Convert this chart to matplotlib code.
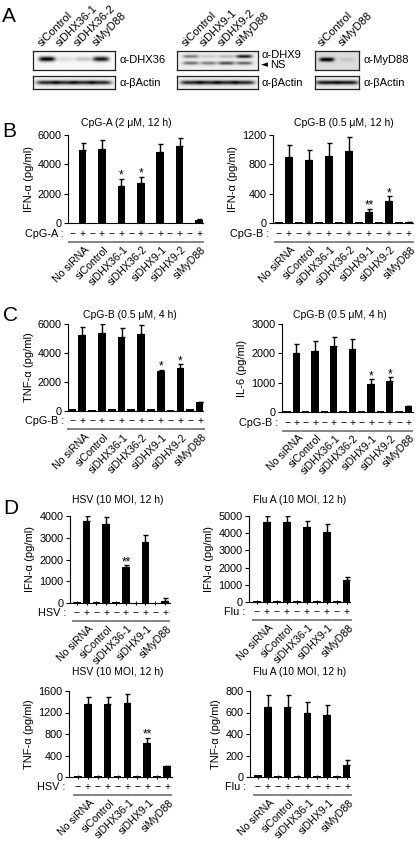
import numpy as np
import matplotlib
matplotlib.use("Agg")
import matplotlib.pyplot as plt
from matplotlib import transforms
from matplotlib.lines import Line2D

plt.rcParams['font.family'] = ['Liberation Sans', 'DejaVu Sans']
plt.rcParams['axes.linewidth'] = 0.8

# ---------------- data ----------------
cats7 = ["No siRNA", "siControl", "siDHX36-1", "siDHX36-2", "siDHX9-1", "siDHX9-2", "siMyD88"]
cats5 = ["No siRNA", "siControl", "siDHX36-1", "siDHX9-1", "siMyD88"]

# B left: CpG-A, IFN-a
b1_minus = [25, 25, 25, 25, 25, 25, 25]
b1_plus = [4950, 5070, 2500, 2750, 4840, 5230, 230]
b1_err = [520, 590, 520, 390, 570, 590, 50]
b1_stars = ["", "", "*", "*", "", "", ""]
# B right: CpG-B, IFN-a
b2_minus = [12, 12, 12, 12, 12, 12, 15]
b2_plus = [900, 865, 915, 980, 150, 297, 15]
b2_err = [160, 132, 173, 192, 46, 68, 0]
b2_stars = ["", "", "", "", "**", "*", ""]
# C left: CpG-B, TNF-a
c1_minus = [130, 80, 130, 140, 120, 80, 130]
c1_plus = [5220, 5400, 5120, 5300, 2760, 2960, 620]
c1_err = [600, 580, 620, 630, 100, 250, 30]
c1_stars = ["", "", "", "", "*", "*", ""]
# C right: CpG-B, IL-6
c2_minus = [20, 20, 20, 20, 20, 20, 20]
c2_plus = [2010, 2080, 2260, 2160, 965, 1045, 193]
c2_err = [300, 330, 280, 330, 145, 140, 0]
c2_stars = ["", "", "", "", "*", "*", ""]
# D: HSV IFN-a
d1_minus = [30, 50, 40, 20, 20]
d1_plus = [3790, 3610, 1660, 2820, 110]
d1_err = [210, 350, 70, 300, 110]
d1_stars = ["", "", "**", "", ""]
# D: Flu IFN-a
d2_minus = [30, 40, 30, 30, 30]
d2_plus = [4670, 4670, 4380, 4090, 1300]
d2_err = [320, 320, 320, 440, 150]
d2_stars = ["", "", "", "", ""]
# D: HSV TNF-a
d3_minus = [20, 15, 15, 15, 10]
d3_plus = [1355, 1355, 1385, 630, 197]
d3_err = [140, 140, 150, 95, 10]
d3_stars = ["", "", "", "**", ""]
# D: Flu TNF-a
d4_minus = [20, 12, 12, 12, 8]
d4_plus = [648, 648, 595, 577, 112]
d4_err = [112, 112, 100, 96, 45]
d4_stars = ["", "", "", "", ""]

# Blots (band intensities, 0..1)
dhx36_lanes = ["siControl", "siDHX36-1", "siDHX36-2", "siMyD88"]
dhx36_band = [1.0, 0.12, 0.2, 0.9]
dhx9_lanes = ["siControl", "siDHX9-1", "siDHX9-2", "siMyD88"]
dhx9_band = [0.45, 0.15, 0.22, 0.85]
dhx9_ns = [0.5, 0.45, 0.65, 0.55]
myd88_lanes = ["siControl", "siMyD88"]
myd88_band = [0.95, 0.1]
actin4 = [0.8, 0.8, 0.8, 0.8]
actin2 = [0.85, 0.85]

# ---------------- figure ----------------
W, H = 416, 842
fig = plt.figure(figsize=(W / 100, H / 100), dpi=100)
FS = 7.5     # titles / signs
TFS = 7.8    # tick labels
LFS = 8.0    # y labels
CFS = 7.6    # category labels


def add_ax(l, t, r, b):
    return fig.add_axes([l / W, 1 - b / H, (r - l) / W, (b - t) / H])


def px_text(x, y, s, **kw):
    fig.text(x / W, 1 - y / H, s, **kw)


def off(trans, dx=0, dy=0):
    return transforms.offset_copy(trans, fig=fig, x=dx, y=dy, units='dots')


def bar_panel(rect, xlim, ymax, yticks, ylabel, title, title_xy, stim, cats,
              minus, plus, err, stars, row_dy=10, xticks=False):
    ax = add_ax(*rect)
    n = len(cats)
    xm = np.arange(n) * 2
    xp = xm + 1
    ax.bar(xm, minus, width=0.78, color='black')
    ax.bar(xp, plus, width=0.78, color='black')
    ax.errorbar(xp, plus, yerr=[np.zeros(n), err], fmt='none', ecolor='black',
                elinewidth=1.0, capsize=1.8, capthick=1.0)
    ax.set_xlim(*xlim)
    ax.set_ylim(0, ymax)
    ax.set_yticks(yticks)
    ax.set_yticklabels([str(v) for v in yticks], fontsize=TFS)
    ax.tick_params(axis='y', direction='out', length=3, width=0.8, pad=1.5)
    if xticks:
        ax.set_xticks(np.concatenate([xm, xp]))
        ax.tick_params(axis='x', direction='inout', length=3, width=0.8, labelbottom=False)
    else:
        ax.set_xticks([])
    for s in ['top', 'right']:
        ax.spines[s].set_visible(False)
    ax.set_ylabel(ylabel, fontsize=LFS, labelpad=3)
    px_text(title_xy[0], title_xy[1], title, fontsize=FS, ha='center', va='center')
    for x, v, e, st in zip(xp, plus, err, stars):
        if st:
            ax.annotate(st, (x, v + e), xytext=(0, -2), textcoords='offset points',
                        ha='center', va='bottom', fontsize=8.5)
    xt = ax.get_xaxis_transform()
    tr_row = off(xt, 0, -row_dy)
    for x in xm:
        ax.text(x, 0, "\u2212", transform=tr_row, ha='center', va='center', fontsize=FS, clip_on=False)
    for x in xp:
        ax.text(x, 0, "+", transform=tr_row, ha='center', va='center', fontsize=FS, clip_on=False)
    ax.text(0, 0, stim + " :", transform=off(ax.transAxes, -4, -row_dy), ha='right', va='center',
            fontsize=TFS, clip_on=False)
    tr_line = off(xt, 0, -row_dy - 8)
    for x in xm:
        ax.add_line(Line2D([x - 0.4, x + 1.4], [0, 0], transform=tr_line, color='#7a7a7a',
                           lw=1.3, clip_on=False))
    tr_lab = off(xt, 0, -row_dy - 14)
    for x, c in zip(xm, cats):
        ax.text(x + 1.5, 0, c, transform=tr_lab, rotation=45, rotation_mode='anchor',
                ha='right', va='center', fontsize=CFS, clip_on=False)
    return ax


bar_panel((68, 135, 203, 223), (-0.5, 13.4), 6000, [0, 2000, 4000, 6000], "IFN-\u03b1 (pg/ml)",
          "CpG-A (2 \u03bcM, 12 h)", (126, 123), "CpG-A", cats7, b1_minus, b1_plus, b1_err, b1_stars, row_dy=11)
bar_panel((273, 135, 413, 223), (-0.6, 13.4), 1200, [0, 400, 800, 1200], "IFN-\u03b1 (pg/ml)",
          "CpG-B (0.5 \u03bcM, 12 h)", (344, 123), "CpG-B", cats7, b2_minus, b2_plus, b2_err, b2_stars, row_dy=11)
bar_panel((68, 324, 203, 411), (-0.45, 13.3), 6000, [0, 2000, 4000, 6000], "TNF-\u03b1 (pg/ml)",
          "CpG-B (0.5 \u03bcM, 4 h)", (130, 315), "CpG-B", cats7, c1_minus, c1_plus, c1_err, c1_stars, row_dy=10.5)
bar_panel((282, 324, 413, 412), (-0.55, 13.5), 3000, [0, 1000, 2000, 3000], "IL-6 (pg/ml)",
          "CpG-B (0.5 \u03bcM, 4 h)", (340, 315), "CpG-B", cats7, c2_minus, c2_plus, c2_err, c2_stars, row_dy=10.5)
bar_panel((70, 516, 170, 603), (-0.7, 9.5), 4000, [0, 1000, 2000, 3000, 4000], "IFN-\u03b1 (pg/ml)",
          "HSV (10 MOI, 12 h)", (118, 500), "HSV", cats5, d1_minus, d1_plus, d1_err, d1_stars, row_dy=10, xticks=True)
bar_panel((249, 516, 350, 602), (-0.8, 9.3), 5000, [0, 1000, 2000, 3000, 4000, 5000], "IFN-\u03b1 (pg/ml)",
          "Flu A (10 MOI, 12 h)", (300, 500), "Flu", cats5, d2_minus, d2_plus, d2_err, d2_stars, row_dy=10, xticks=True)
bar_panel((69, 691, 172, 777), (-0.9, 9.5), 1600, [0, 400, 800, 1200, 1600], "TNF-\u03b1 (pg/ml)",
          "HSV (10 MOI, 12 h)", (118, 672), "HSV", cats5, d3_minus, d3_plus, d3_err, d3_stars, row_dy=10, xticks=True)
bar_panel((250, 691, 350, 777), (-0.8, 9.3), 800, [0, 200, 400, 600, 800], "TNF-\u03b1 (pg/ml)",
          "Flu A (10 MOI, 12 h)", (300, 672), "Flu", cats5, d4_minus, d4_plus, d4_err, d4_stars, row_dy=10, xticks=True)


# ---------------- blots ----------------
def blot(rect, lanes_x, bands, bg, lane_hw):
    ax = add_ax(*rect)
    nx, ny = 300, 60
    X = np.linspace(0, 1, nx)[None, :]
    Y = np.linspace(0, 1, ny)[:, None]
    img = np.full((ny, nx), bg)
    for yc, ints, hh in bands:
        for cx, I in zip(lanes_x, ints):
            img = img - I * np.exp(-((X - cx) / lane_hw) ** 4) * np.exp(-((Y - yc) / hh) ** 2)
    img = np.clip(img, 0, 1)
    ax.imshow(img, cmap='gray', vmin=0, vmax=1, extent=(0, 1, 0, 1), origin='lower', aspect='auto',
              interpolation='bilinear')
    ax.set_xticks([])
    ax.set_yticks([])
    for s in ax.spines.values():
        s.set_color('#222222')
        s.set_linewidth(0.9)
    return ax


lx4 = [0.17, 0.39, 0.61, 0.83]
lx2 = [0.27, 0.73]
# blot 1
blot((33, 51, 115, 70), lx4, [(0.58, dhx36_band, 0.13)], 0.97, 0.1)
blot((33, 76, 115, 89), lx4, [(0.5, actin4, 0.16)], 0.94, 0.13)
# blot 2
blot((177, 51, 258, 70), lx4, [(0.72, dhx9_band, 0.09), (0.36, dhx9_ns, 0.09)], 0.93, 0.1)
blot((177, 76, 258, 89), lx4, [(0.5, actin4, 0.16)], 0.93, 0.13)
# blot 3
blot((315, 51, 359, 70), lx2, [(0.55, myd88_band, 0.11)], 0.86, 0.17)
blot((315, 76, 359, 89), lx2, [(0.5, actin2, 0.16)], 0.92, 0.26)

for (l, r, lanes, lx) in [(33, 115, dhx36_lanes, lx4), (177, 258, dhx9_lanes, lx4), (315, 359, myd88_lanes, lx2)]:
    for name, f in zip(lanes, lx):
        x = l + f * (r - l) - 5
        px_text(x, 47, name, rotation=45, rotation_mode='anchor', ha='left', va='baseline', fontsize=8)

AF = 8.0
px_text(120, 60, "\u03b1-DHX36", fontsize=AF, va='center')
px_text(120, 83, "\u03b1-\u03b2Actin", fontsize=AF, va='center')
px_text(262, 55, "\u03b1-DHX9", fontsize=AF, va='center')
px_text(261, 65, "\u25c4", fontsize=6.5, va='center', family=['DejaVu Sans'])
px_text(270, 65.5, "NS", fontsize=AF, va='center')
px_text(262, 83, "\u03b1-\u03b2Actin", fontsize=AF, va='center')
px_text(363, 60, "\u03b1-MyD88", fontsize=AF, va='center')
px_text(363, 83, "\u03b1-\u03b2Actin", fontsize=AF, va='center')

# panel letters
for L, x, y in [("A", 2, 22), ("B", 2, 137), ("C", 3, 321), ("D", 3, 514)]:
    px_text(x, y, L, fontsize=15, va='baseline', ha='left')

fig.savefig("out.png", dpi=100)
